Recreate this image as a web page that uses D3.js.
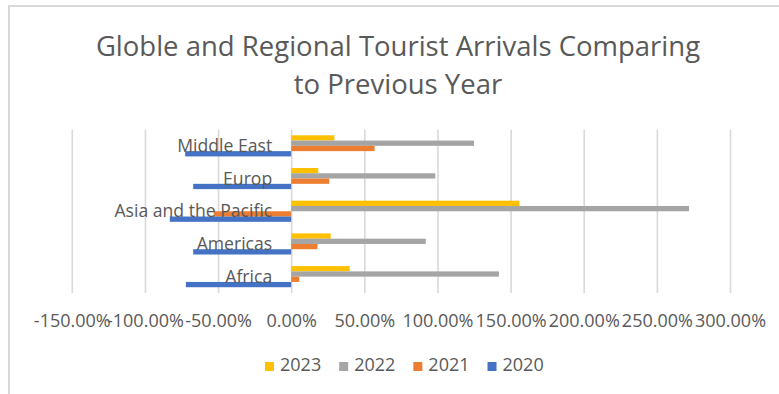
<!DOCTYPE html>
<html>
<head>
<meta charset="utf-8">
<script src="https://cdn.jsdelivr.net/npm/d3@7"></script>
<style>
  body { margin: 0; background: #fff; }
  text { font-family: "Open Sans", sans-serif; fill: #595959; }
</style>
</head>
<body>
<div id="chart"></div>
<script>
// Regional tourist arrivals, % change vs previous year

var categories = ["Middle East", "Europ", "Asia and the Pacific", "Americas", "Africa"];
var seriesNames = ["2023", "2022", "2021", "2020"];
var seriesColors = ["#FFC000", "#A5A5A5", "#ED7D31", "#4472C4"];

// values in percent, same order as categories
var values2023 = [29.5, 18.5, 156, 27, 40];
var values2022 = [125, 98.5, 272, 92, 142];
var values2021 = [57, 26, -53, 18, 5.5];
var values2020 = [-72.5, -67, -83, -67, -72];

var tickValues = [-150, -100, -50, 0, 50, 100, 150, 200, 250, 300];

var titleLines = ["Globle and Regional Tourist Arrivals Comparing", "to Previous Year"];

var seriesValues = [values2023, values2022, values2021, values2020];

var svgWidth = 779;
var svgHeight = 394;

var svg = d3.select("#chart")
  .append("svg")
  .attr("width", svgWidth)
  .attr("height", svgHeight);

// chart frame (only top and left edges visible)
svg.append("path")
  .attr("d", "M9,800 L9,6 L800,6")
  .attr("fill", "none")
  .attr("stroke", "#D9D9D9")
  .attr("stroke-width", 2);

// title
svg.append("g")
  .selectAll("text")
  .data(titleLines)
  .enter()
  .append("text")
  .attr("x", 398)
  .attr("y", (d, i) => 56 + i * 38)
  .attr("text-anchor", "middle")
  .style("font-size", "27.5px")
  .text(d => d);

var plotTop = 129.5;
var plotBottom = 293;

var x = d3.scaleLinear()
  .domain([-150, 300])
  .range([71.8, 730]);

var y0 = d3.scaleBand()
  .domain(categories)
  .range([plotTop, plotBottom])
  .padding(0);

// Excel style gap width of ~219%
var y1 = d3.scaleBand()
  .domain(seriesNames)
  .range([0, y0.bandwidth()])
  .paddingInner(0)
  .paddingOuter(1.095);

var fmt = d3.formatLocale({
  decimal: ".", thousands: ",", grouping: [3], currency: ["$", ""], minus: "-"
}).format(".2%");

// gridlines + tick labels
var xAxis = svg.append("g")
  .attr("transform", `translate(0, ${plotBottom})`)
  .call(d3.axisBottom(x)
    .tickValues(tickValues)
    .tickSizeInner(-(plotBottom - plotTop))
    .tickSizeOuter(0)
    .tickFormat(d => fmt(d / 100)));

xAxis.select(".domain").remove();
xAxis.selectAll("line")
  .attr("stroke", "#D9D9D9")
  .attr("stroke-width", 1.6);
xAxis.selectAll("text")
  .attr("y", 34)
  .attr("dy", 0)
  .attr("fill", "#595959")
  .style("font-family", "'Open Sans', sans-serif")
  .style("font-size", "18px");

// bars
var barData = [];
seriesNames.forEach(function(s, si) {
  categories.forEach(function(c, ci) {
    barData.push({series: s, category: c, value: seriesValues[si][ci], color: seriesColors[si]});
  });
});

svg.append("g")
  .selectAll("rect")
  .data(barData)
  .enter()
  .append("rect")
  .attr("x", d => x(Math.min(0, d.value)))
  .attr("y", d => y0(d.category) + y1(d.series))
  .attr("width", d => Math.abs(x(d.value) - x(0)))
  .attr("height", y1.bandwidth())
  .attr("fill", d => d.color);

// category labels (drawn over bars like the original)
svg.append("g")
  .selectAll("text")
  .data(categories)
  .enter()
  .append("text")
  .attr("x", x(0) - 19)
  .attr("y", d => y0(d) + y0.bandwidth() / 2)
  .attr("dy", "0.35em")
  .attr("text-anchor", "end")
  .style("font-size", "17.6px")
  .text(d => d);

// legend
var legend = svg.append("g");
var items = legend.selectAll("g")
  .data(seriesNames)
  .enter()
  .append("g");

items.append("rect")
  .attr("width", 9)
  .attr("height", 9)
  .attr("y", 362)
  .attr("fill", (d, i) => seriesColors[i]);

items.append("text")
  .attr("x", 15)
  .attr("y", 371)
  .style("font-size", "18px")
  .text(d => d);

var offset = 0;
var gap = 18;
var widths = items.nodes().map(n => n.getBBox().width);
var start = 265;
items.attr("transform", function(d, i) {
  var t = `translate(${start + offset}, 0)`;
  offset += widths[i] + gap;
  return t;
});
</script>
</body>
</html>
